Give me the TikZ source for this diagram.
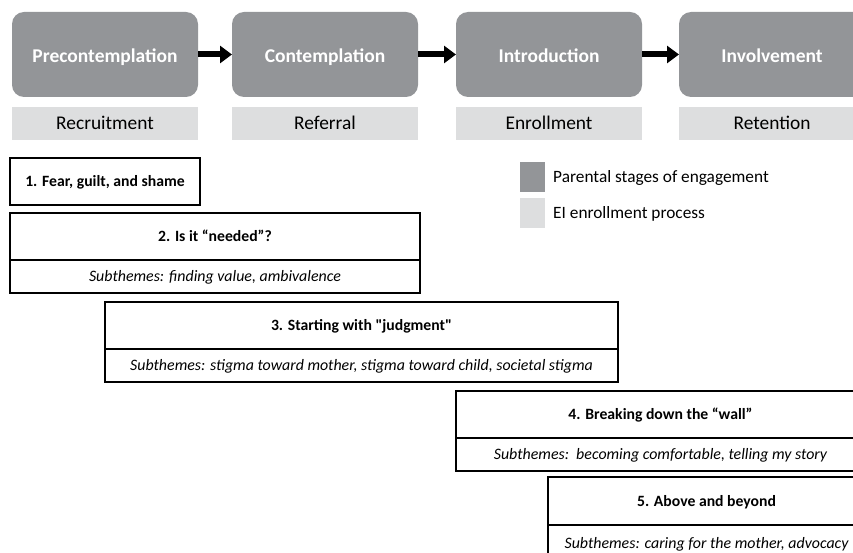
\documentclass[tikz,border=0pt]{standalone}
\usepackage{fontspec}
\setmainfont{Carlito}
\usetikzlibrary{arrows.meta,positioning}
\definecolor{stagegray}{RGB}{147,149,152}
\definecolor{enrollgray}{RGB}{221,222,223}

\begin{document}
\begin{tikzpicture}[x=1pt,y=-1pt,
    stage/.style={fill=stagegray, rounded corners=12pt, minimum width=186pt, minimum height=85pt, inner sep=0pt, outer sep=0pt, text height=15.5pt, text depth=0pt, text=white, font=\fontsize{19.5}{22}\selectfont\bfseries},
    enroll/.style={fill=enrollgray, minimum width=186pt, minimum height=33pt, inner sep=0pt, outer sep=0pt, text height=12.8pt, text depth=0pt, font=\fontsize{19.4}{22}\selectfont},
    flow/.style={line width=6pt, -{Triangle[length=12pt,width=17pt]}},
    theme/.style={draw, line width=1.6pt, minimum height=47pt, inner sep=0pt, outer sep=0pt, text height=10.6pt, text depth=0pt, font=\fontsize{15.7}{18}\selectfont\bfseries},
    subbox/.style={draw, line width=1.6pt, minimum height=33pt, inner sep=0pt, outer sep=0pt, text height=10.6pt, text depth=0pt, font=\fontsize{15.9}{18}\selectfont\itshape},
    key/.style={minimum width=25pt, minimum height=30pt, inner sep=0pt, outer sep=0pt},
    keytext/.style={inner sep=0pt, text height=11.4pt, text depth=0pt, font=\fontsize{17.3}{20}\selectfont}]
    \clip (0,0) rectangle (853,553);

    % parental stages and EI enrollment
    \node[stage] (pre) at (105,54.5) {Precontemplation};
    \node[stage] (con) at (325,54.5) {Contemplation};
    \node[stage] (intro) at (549,54.5) {Introduction};
    \node[stage] (inv) at (772,54.5) {Involvement};

    \node[enroll, below=10pt of pre] (recruit) {Recruitment};
    \node[enroll, below=10pt of con] (refer) {Referral};
    \node[enroll, below=10pt of intro] (enrol) {Enrollment};
    \node[enroll, below=10pt of inv] (retain) {Retention};

    \draw[flow] (pre) -- (con);
    \draw[flow] (con) -- (intro);
    \draw[flow] (intro) -- (inv);

    % legend
    \node[key, fill=stagegray] (keystage) at (532.5,177) {};
    \node[key, fill=enrollgray, below=6pt of keystage] (keyenroll) {};
    \node[keytext, right=8pt of keystage] (keystagetext) {Parental stages of engagement};
    \node[keytext, right=8pt of keyenroll] (keyenrolltext) {EI enrollment process};

    % themes
    \node[theme, minimum width=190pt] (fear) at (105,181.5) {1. Fear, guilt, and shame};

    \node[theme, minimum width=410pt] (need) at (215,236.5) {2. Is it “needed”?};
    \node[subbox, minimum width=410pt, below=0pt of need] (needsub) {Subthemes: finding value, ambivalence};

    \node[theme, minimum width=513pt] (judge) at (361.5,325.5) {3. Starting with \textquotedbl judgment\textquotedbl};
    \node[subbox, minimum width=513pt, below=0pt of judge] (judgesub) {Subthemes: stigma toward mother, stigma toward child, societal stigma};

    \node[theme, minimum width=409pt] (wall) at (660.5,414.5) {4. Breaking down the “wall”};
    \node[subbox, minimum width=409pt, below=0pt of wall] (wallsub) {Subthemes:\ \ becoming comfortable, telling my story};

    \node[theme, minimum width=317pt, minimum height=48pt] (beyond) at (706.5,501) {5. Above and beyond};
    \node[subbox, minimum width=317pt, minimum height=36pt, below=0pt of beyond] (beyondsub) {Subthemes: caring for the mother, advocacy};
\end{tikzpicture}
\end{document}
